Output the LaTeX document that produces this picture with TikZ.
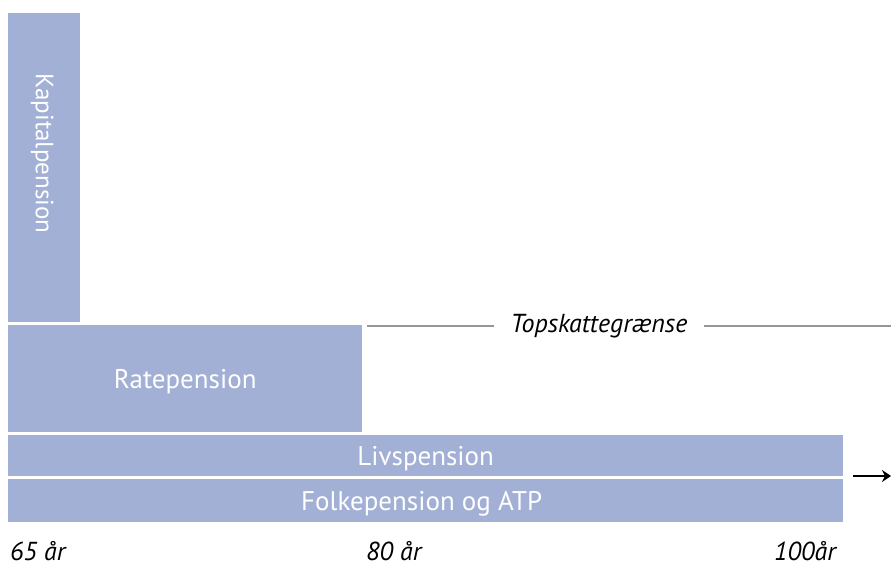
\documentclass[tikz,border=0pt]{standalone}
\usepackage{fontspec}
\setmainfont{PT Sans}
\usepackage{xcolor}
\usetikzlibrary{positioning, arrows.meta}

\definecolor{barblue}{RGB}{163,176,213}
\definecolor{limitgrey}{RGB}{150,150,150}

\begin{document}
\begin{tikzpicture}[
        x=1pt, y=-1pt,
        % Define styles for consistency
        bar/.style={fill=barblue, draw=none, inner sep=0pt, anchor=north west},
        bartext/.style={text=white, font=\fontsize{27}{27}\selectfont, inner sep=0pt},
        agelabel/.style={font=\fontsize{26}{26}\selectfont\itshape, inner sep=0pt, text depth=0pt},
        limit/.style={limitgrey, line width=2pt},
        pointer/.style={black, line width=2pt, -{Stealth[length=9pt, width=12pt]}}
    ]

        % --- Frame ---
        \useasboundingbox (0,0) rectangle (891,567);

        % --- Bars ---
        \node[bar, minimum width=72pt, minimum height=309pt] (kapital) at (8,13) {};
        \node[bar, minimum width=354pt, minimum height=107pt] (rate) at (8,325) {};
        \node[bar, minimum width=835pt, minimum height=41pt] (livs) at (8,435) {};
        \node[bar, minimum width=835pt, minimum height=43pt] (folke) at (8,479) {};

        % --- Bar texts ---
        \node[bartext, font=\fontsize{25}{25}\selectfont, rotate=-90] (kapitaltext) at ([xshift=-2pt, yshift=14pt]kapital.center) {Kapitalpension};
        \node[bartext] (ratetext) at ([yshift=-3pt]rate.center) {Ratepension};
        \node[bartext] (livstext) at ([yshift=-3pt]livs.center) {Livspension};
        \node[bartext] (folketext) at ([xshift=-4pt, yshift=-3pt]folke.center) {Folkepension og ATP};

        % --- Topskattegraense ---
        \coordinate (limitL) at (367,326);
        \coordinate (limitR) at (891,326);
        \node[font=\fontsize{26}{26}\selectfont\itshape, inner xsep=16pt, inner ysep=0pt] (topskat) at (599,326) {Topskattegrænse};
        \draw[limit] (limitL) -- (topskat);
        \draw[limit] (topskat) -- (limitR);

        % --- Arrow ---
        \coordinate (arrowS) at (853,476);
        \coordinate (arrowE) at (891,476);
        \draw[pointer] (arrowS) -- (arrowE);

        % --- Ages ---
        \node[agelabel, anchor=base west] (age65) at (10,560) {65 år};
        \node[agelabel, anchor=base west] (age80) at (366,560) {80 år};
        \node[agelabel, anchor=base east] (age100) at (836,560) {100år};

    \end{tikzpicture}
\end{document}
